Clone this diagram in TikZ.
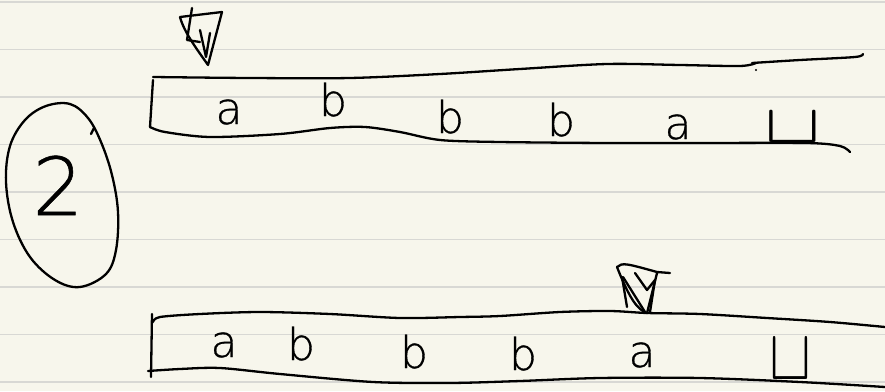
\documentclass[tikz,border=0pt]{standalone}
\usepackage{fontspec}
\newfontfamily\hand{DejaVuSans-ExtraLight.ttf}[FakeBold=0.7]
\definecolor{paper}{RGB}{247,246,236}
\definecolor{ruled}{RGB}{216,216,212}
\begin{document}
\begin{tikzpicture}[x=1pt,y=-1pt,
  ink/.style={line width=2.3pt, line cap=round, line join=round},
  ruleline/.style={ruled, line width=1.6pt},
  sym/.style={font=\hand\fontsize{44}{44}\selectfont, anchor=base, inner sep=0pt},
  blanksym/.style={font=\fontsize{10}{12}\selectfont, anchor=base, inner sep=0pt},
  bignum/.style={font=\hand\fontsize{80}{80}\selectfont, anchor=base, inner sep=0pt}]
\fill[paper] (0,0) rectangle (885,391);
\useasboundingbox (0,0) rectangle (885,391);
% ruled paper
\foreach \yy in {2,49.5,97,144.5,192,239.5,287,334.5,382}
  \draw[ruleline] (0,\yy) -- (885,\yy);

% circled number
\draw[ink] plot[smooth cycle, tension=0.6] coordinates {(70,104) (88,118) (101,142) (112,175) (118,212) (116,250) (106,274) (80,287) (55,280) (30,257) (13,222) (6,182) (10,146) (25,120) (46,106)};
\draw[ink] (91,134) -- (94,128);
\node[bignum] (num) at (58,215) {2};

% ---- top tape ----
\draw[ink] plot[smooth, tension=0.5] coordinates {(153,77) (250,78) (350,78) (440,74) (520,69) (607,64) (680,65) (740,66) (756,63)};
\draw[ink] plot[smooth, tension=0.5] coordinates {(752,63) (800,60) (855,57) (863,54)};
\fill (756,70) circle (1.2pt);
\draw[ink] (153,80) -- (150,127);
\draw[ink] plot[smooth, tension=0.5] coordinates {(150,127) (165,132) (210,137) (280,134) (330,128) (365,127) (400,132) (440,140) (500,142) (607,143) (700,143) (807,143) (840,146) (850,152)};
% head
\draw[ink] (180,17) -- (222,12) -- (208,65) .. controls (196,48) and (184,32) .. (180,17);
\draw[ink] (192,8) -- (187,40) -- (200,42);
\draw[ink] (200,30) -- (206,57) -- (210,33);
% symbols
\node[sym] (t1) at (229,124) {a};
\node[sym] (t2) at (333,116) {b};
\node[sym] (t3) at (450,133) {b};
\node[sym] (t4) at (561,136) {b};
\node[sym] (t5) at (678,139) {a};
\node[blanksym] (t6) at (793,142) {\scalebox{8.5}[5.4]{$\sqcup$}};

% ---- bottom tape ----
\draw[ink] (152,314) -- (151,377);
\draw[ink] plot[smooth, tension=0.5] coordinates {(153,322) (160,317) (200,314) (260,312) (330,314) (400,318) (460,317) (500,316) (560,312) (610,311) (647,313) (700,314) (767,318) (830,322) (885,327)};
\draw[ink] plot[smooth, tension=0.5] coordinates {(148,371) (180,369) (220,368) (280,374) (373,382) (450,383) (520,381) (600,378) (700,378) (800,382) (885,387)};
% head
\draw[ink] (617,267) .. controls (622,262) and (628,264) .. (657,272) -- (670,273);
\draw[ink] (657,273) -- (647,313) .. controls (638,310) and (630,300) .. (617,267);
\draw[ink] (622,277) -- (627,307);
\draw[ink] (623,277) -- (645,312);
\draw[ink] (635,273) -- (647,290) -- (655,280) -- (650,312);
% symbols
\node[sym] (b1) at (224,357) {a};
\node[sym] (b2) at (301,360) {b};
\node[sym] (b3) at (414,368) {b};
\node[sym] (b4) at (523,370) {b};
\node[sym] (b5) at (642,367) {a};
\node[blanksym] (b6) at (790,379) {\scalebox{6.3}[7.2]{$\sqcup$}};
\end{tikzpicture}
\end{document}
